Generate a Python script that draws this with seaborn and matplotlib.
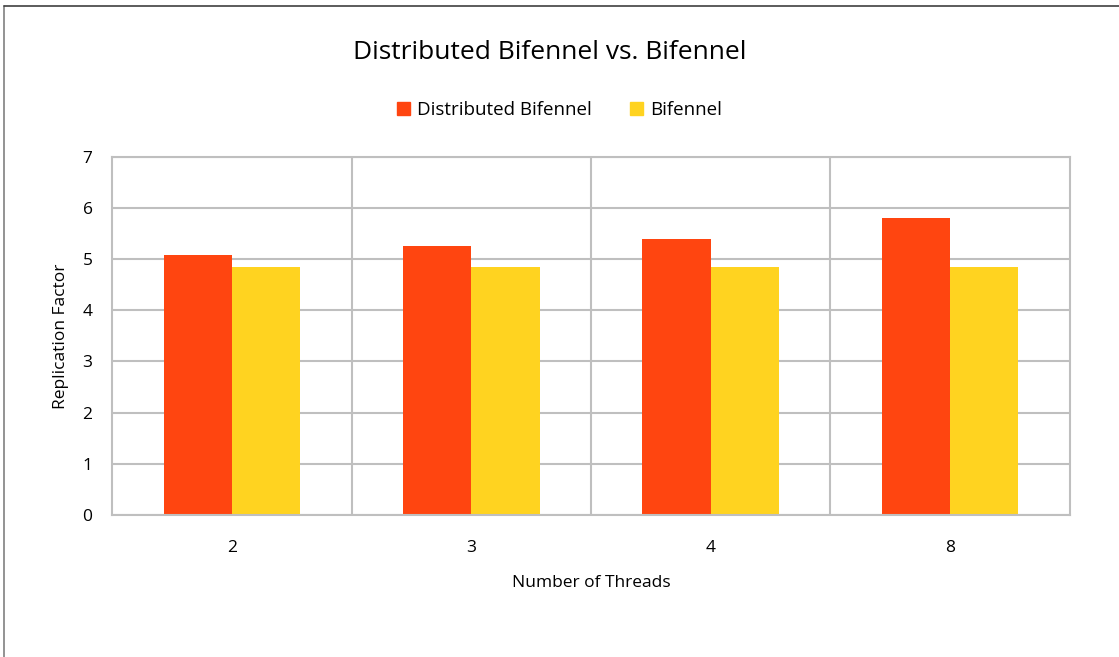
import matplotlib
matplotlib.use("Agg")
import matplotlib.pyplot as plt
from matplotlib.patches import Rectangle
import seaborn as sns
import pandas as pd

threads = ["2", "3", "4", "8"]
distributed_bifennel = [5.08, 5.25, 5.39, 5.81]
bifennel = [4.84, 4.84, 4.84, 4.84]
series_names = ["Distributed Bifennel", "Bifennel"]
colors = ["#FF4510", "#FFD320"]

df = pd.DataFrame({
    "Number of Threads": threads * 2,
    "Replication Factor": distributed_bifennel + bifennel,
    "Series": [series_names[0]] * len(threads) + [series_names[1]] * len(threads),
})

sns.set_style("white")
plt.rcParams["font.family"] = ["Open Sans", "DejaVu Sans"]
plt.rcParams["text.color"] = "#000000"
plt.rcParams["axes.labelcolor"] = "#000000"

fig = plt.figure(figsize=(11.19, 6.57), dpi=100)
ax = fig.add_axes([0.1001, 0.2161, 0.8561, 0.5454])

sns.barplot(data=df, x="Number of Threads", y="Replication Factor", hue="Series",
            hue_order=series_names, palette=colors, width=0.57, gap=0,
            saturation=1, linewidth=0, ax=ax, legend=False)

grid_c = "#BFBFBF"
ax.set_ylim(0, 7)
ax.set_xlim(-0.5, len(threads) - 0.5)
ax.set_yticks(range(0, 8))
ax.set_axisbelow(True)
ax.yaxis.grid(True, color=grid_c, linewidth=1.5)
for k in range(1, len(threads)):
    ax.axvline(k - 0.5, color=grid_c, linewidth=1.5, zorder=0)
for s in ax.spines.values():
    s.set_color(grid_c)
    s.set_linewidth(1.5)
ax.tick_params(axis="both", length=0, labelsize=12.5, colors="#000000")
ax.tick_params(axis="x", pad=18)
ax.tick_params(axis="y", pad=14)

ax.set_xlabel("Number of Threads", fontsize=12.5, labelpad=14)
ax.set_ylabel("Replication Factor", fontsize=12.5, labelpad=10)

fig.text(0.4915, 0.920, "Distributed Bifennel vs. Bifennel", ha="center", va="center",
         fontsize=19)

# legend across the top
handles = [Rectangle((0, 0), 1, 1, color=c) for c in colors]
fig.legend(handles, series_names, loc="center", bbox_to_anchor=(0.500, 0.833),
           ncol=2, frameon=False, fontsize=13.5, handlelength=0.7, handleheight=0.7,
           handletextpad=0.4, columnspacing=2.0)

# outer frame lines on the left and top edges
fig.add_artist(plt.Line2D([0.0035, 0.0035], [0.0, 0.991], transform=fig.transFigure,
                          color="#808080", linewidth=1.2))
fig.add_artist(plt.Line2D([0.0035, 1.0], [0.991, 0.991], transform=fig.transFigure,
                          color="#404040", linewidth=1.2))

fig.savefig("out.png", dpi=100)
